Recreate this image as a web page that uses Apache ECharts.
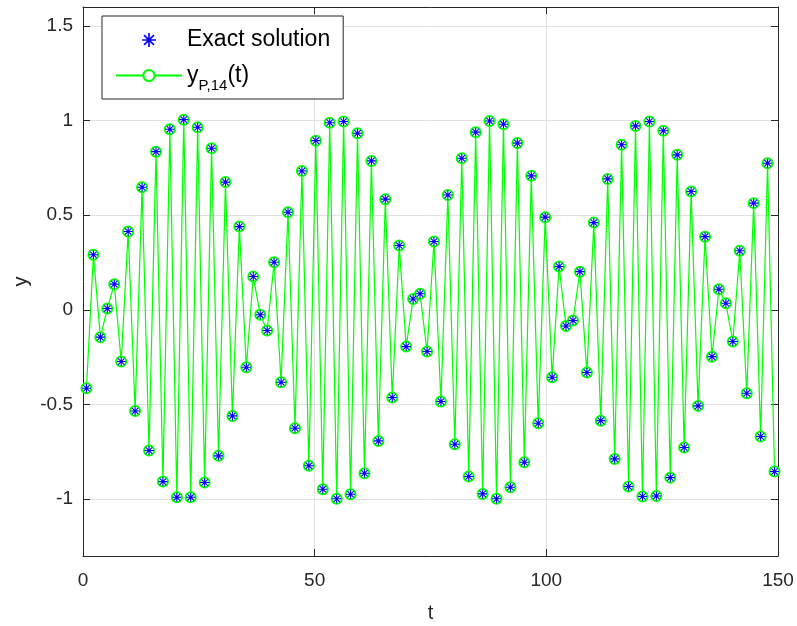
<!DOCTYPE html>
<html>
<head>
<meta charset="utf-8">
<script src="https://cdn.jsdelivr.net/npm/echarts@6/dist/echarts.min.js"></script>
<style>
  html, body { margin: 0; padding: 0; background: #ffffff; }
  #chart { width: 797px; height: 626px; }
</style>
</head>
<body>
<div id="chart"></div>
<script>
// Sample times t
const tValues = [
  0.75, 2.25, 3.75, 5.25, 6.75, 8.25, 9.75, 11.25, 12.75, 14.25,
  15.75, 17.25, 18.75, 20.25, 21.75, 23.25, 24.75, 26.25, 27.75, 29.25,
  30.75, 32.25, 33.75, 35.25, 36.75, 38.25, 39.75, 41.25, 42.75, 44.25,
  45.75, 47.25, 48.75, 50.25, 51.75, 53.25, 54.75, 56.25, 57.75, 59.25,
  60.75, 62.25, 63.75, 65.25, 66.75, 68.25, 69.75, 71.25, 72.75, 74.25,
  75.75, 77.25, 78.75, 80.25, 81.75, 83.25, 84.75, 86.25, 87.75, 89.25,
  90.75, 92.25, 93.75, 95.25, 96.75, 98.25, 99.75, 101.25, 102.75, 104.25,
  105.75, 107.25, 108.75, 110.25, 111.75, 113.25, 114.75, 116.25, 117.75, 119.25,
  120.75, 122.25, 123.75, 125.25, 126.75, 128.25, 129.75, 131.25, 132.75, 134.25,
  135.75, 137.25, 138.75, 140.25, 141.75, 143.25, 144.75, 146.25, 147.75, 149.25
];

// Exact solution y(t)
const yExact = [
  -0.414, 0.291, -0.144, 0.007, 0.136, -0.273, 0.414, -0.534, 0.648, -0.743,
  0.836, -0.907, 0.954, -0.990, 1.005, -0.990, 0.965, -0.912, 0.854, -0.771,
  0.675, -0.560, 0.440, -0.303, 0.176, -0.026, -0.109, 0.252, -0.382, 0.516,
  -0.625, 0.734, -0.823, 0.894, -0.947, 0.989, -0.998, 0.995, -0.974, 0.933,
  -0.863, 0.787, -0.692, 0.585, -0.463, 0.340, -0.194, 0.058, 0.085, -0.220,
  0.361, -0.484, 0.607, -0.710, 0.801, -0.880, 0.939, -0.972, 0.998, -0.998,
  0.981, -0.937, 0.881, -0.805, 0.708, -0.599, 0.490, -0.356, 0.229, -0.085,
  -0.056, 0.202, -0.331, 0.461, -0.585, 0.692, -0.787, 0.872, -0.933, 0.972,
  -0.986, 0.995, -0.983, 0.946, -0.886, 0.819, -0.727, 0.625, -0.507, 0.387,
  -0.247, 0.109, 0.035, -0.167, 0.312, -0.440, 0.564, -0.669, 0.775, -0.854
];

// Approximation y_{P,14}(t)
const yP14 = [
  -0.414, 0.291, -0.144, 0.007, 0.136, -0.273, 0.414, -0.534, 0.648, -0.743,
  0.836, -0.907, 0.954, -0.990, 1.005, -0.990, 0.965, -0.912, 0.854, -0.771,
  0.675, -0.560, 0.440, -0.303, 0.176, -0.026, -0.109, 0.252, -0.382, 0.516,
  -0.625, 0.734, -0.823, 0.894, -0.947, 0.989, -0.998, 0.995, -0.974, 0.933,
  -0.863, 0.787, -0.692, 0.585, -0.463, 0.340, -0.194, 0.058, 0.085, -0.220,
  0.361, -0.484, 0.607, -0.710, 0.801, -0.880, 0.939, -0.972, 0.998, -0.998,
  0.981, -0.937, 0.881, -0.805, 0.708, -0.599, 0.490, -0.356, 0.229, -0.085,
  -0.056, 0.202, -0.331, 0.461, -0.585, 0.692, -0.787, 0.872, -0.933, 0.972,
  -0.986, 0.995, -0.983, 0.946, -0.886, 0.819, -0.727, 0.625, -0.507, 0.387,
  -0.247, 0.109, 0.035, -0.167, 0.312, -0.440, 0.564, -0.669, 0.775, -0.854
];

// Axis ranges
const xRange = [0, 150];
const xTickStep = 50;
const yRange = [-1.3, 1.6];

const seriesNames = ['Exact solution', 'y_P,14(t)'];

const FONT = '"Liberation Sans", Arial, Helvetica, sans-serif';
const AXIS_COLOR = '#262626';
const GRID_COLOR = '#e0e0e0';

// Eight-spoke asterisk marker built from four thin bars
function asteriskPath(r, w) {
  let d = '';
  [0, 45, 90, 135].forEach(function (deg) {
    const a = deg * Math.PI / 180;
    const c = Math.cos(a), s = Math.sin(a);
    const p = [
      [ r * c - w * s,  r * s + w * c],
      [ r * c + w * s,  r * s - w * c],
      [-r * c + w * s, -r * s - w * c],
      [-r * c - w * s, -r * s + w * c]
    ];
    d += 'M' + p.map(function (q) { return q[0].toFixed(3) + ',' + q[1].toFixed(3); }).join('L') + 'Z';
  });
  return 'path://' + d;
}

const exactPoints = tValues.map(function (t, i) { return [t, yExact[i]]; });
const approxPoints = tValues.map(function (t, i) { return [t, yP14[i]]; });

const chart = echarts.init(document.getElementById('chart'), null, { renderer: 'canvas' });

const frameAxisX = function (pos) {
  return {
    type: 'value', position: pos, min: xRange[0], max: xRange[1], interval: xTickStep,
    axisLine: { show: true, onZero: false, lineStyle: { color: AXIS_COLOR, width: 1 } },
    axisTick: { show: true, inside: true, length: 7, lineStyle: { color: AXIS_COLOR, width: 1 } },
    axisLabel: { show: false },
    splitLine: { show: false }
  };
};
const frameAxisY = function (pos) {
  return {
    type: 'value', position: pos, min: yRange[0], max: yRange[1], splitNumber: 6,
    axisLine: { show: true, onZero: false, lineStyle: { color: AXIS_COLOR, width: 1 } },
    axisTick: { show: true, inside: true, length: 7, lineStyle: { color: AXIS_COLOR, width: 1 } },
    axisLabel: { show: false },
    splitLine: { show: false }
  };
};

const xMain = frameAxisX('bottom');
xMain.name = 't';
xMain.nameLocation = 'middle';
xMain.nameGap = 47;
xMain.nameMoveOverlap = false;
xMain.nameTextStyle = { fontSize: 20, color: AXIS_COLOR, fontFamily: FONT };
xMain.axisLabel = { show: true, fontSize: 19, color: AXIS_COLOR, margin: 15, fontFamily: FONT };
xMain.splitLine = { show: true, lineStyle: { color: GRID_COLOR, width: 1 } };

const yMain = frameAxisY('left');
yMain.name = 'y';
yMain.nameLocation = 'middle';
yMain.nameGap = 52;
yMain.nameMoveOverlap = false;
yMain.nameTextStyle = { fontSize: 20, color: AXIS_COLOR, fontFamily: FONT };
yMain.axisLabel = { show: true, fontSize: 19, color: AXIS_COLOR, margin: 10, fontFamily: FONT,
                    showMinLabel: false, showMaxLabel: false };
yMain.splitLine = { show: true, lineStyle: { color: GRID_COLOR, width: 1 } };

const option = {
  backgroundColor: '#ffffff',
  animation: false,
  textStyle: { fontFamily: FONT },
  grid: { left: 83, right: 19, top: 7, bottom: 70, containLabel: false, outerBoundsMode: 'none' },
  xAxis: [xMain, frameAxisX('top')],
  yAxis: [yMain, frameAxisY('right')],
  legend: {
    orient: 'vertical',
    left: 102,
    top: 16,
    padding: [11, 13, 6, 13],
    itemGap: 5,
    itemWidth: 66,
    itemHeight: 14,
    selectedMode: false,
    backgroundColor: '#ffffff',
    borderColor: AXIS_COLOR,
    borderWidth: 1,
    borderRadius: 0,
    data: seriesNames,
    formatter: function (name) {
      if (name === seriesNames[1]) {
        return '{m|y}{s|P,14}{m|(t)}';
      }
      return name;
    },
    textStyle: {
      fontSize: 23,
      lineHeight: 26,
      color: '#000000',
      fontFamily: FONT,
      rich: {
        m: { fontSize: 23, lineHeight: 24, color: '#000000', fontFamily: FONT },
        s: { fontSize: 15, lineHeight: 15, color: '#000000', fontFamily: FONT,
             padding: [20, 0, 0, 0] }
      }
    }
  },
  series: [
    {
      name: seriesNames[0],
      type: 'scatter',
      xAxisIndex: 0,
      yAxisIndex: 0,
      data: exactPoints,
      symbol: asteriskPath(10, 1.2),
      symbolSize: 9,
      symbolKeepAspect: true,
      itemStyle: { color: '#0000ff', opacity: 1 },
      emphasis: { disabled: true },
      z: 3
    },
    {
      name: seriesNames[1],
      type: 'line',
      xAxisIndex: 0,
      yAxisIndex: 0,
      data: approxPoints,
      symbol: 'emptyCircle',
      symbolSize: 10,
      showAllSymbol: true,
      lineStyle: { color: '#00ff00', width: 1.2 },
      itemStyle: { color: '#00ff00', borderColor: '#00ff00', borderWidth: 1 },
      emphasis: { disabled: true },
      z: 2
    }
  ]
};

chart.setOption(option);
</script>
</body>
</html>
